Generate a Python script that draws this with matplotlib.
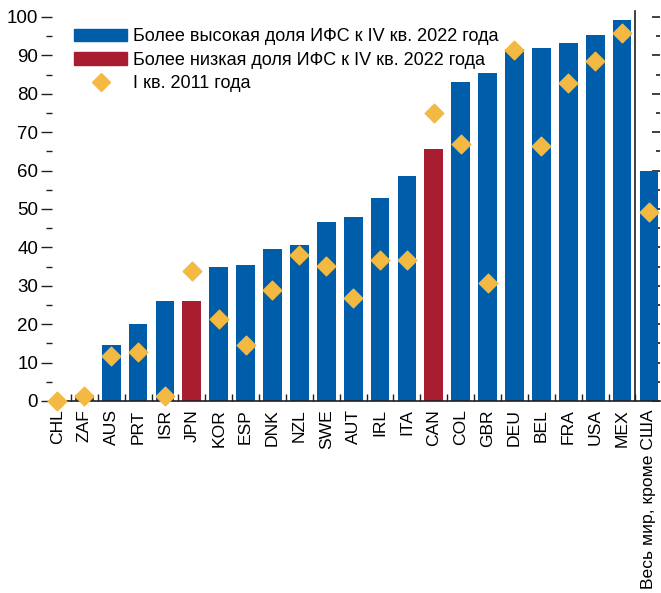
import numpy as np
import matplotlib
matplotlib.use("Agg")
import matplotlib.pyplot as plt
from matplotlib.ticker import MultipleLocator, NullFormatter
from matplotlib.patches import Patch
from matplotlib.lines import Line2D

categories = ["CHL", "ZAF", "AUS", "PRT", "ISR", "JPN", "KOR", "ESP", "DNK", "NZL",
              "SWE", "AUT", "IRL", "ITA", "CAN", "COL", "GBR", "DEU", "BEL", "FRA",
              "USA", "MEX", "Весь мир, кроме США"]
share_2022 = [0.0, 1.5, 14.6, 20.0, 26.0, 26.0, 34.8, 35.3, 39.7, 40.5,
              46.5, 48.0, 52.8, 58.5, 65.6, 83.0, 85.3, 91.6, 91.8, 93.1,
              95.2, 99.3, 59.8]
share_2011 = [0.0, 1.3, 11.8, 12.7, 1.3, 33.8, 21.3, 14.6, 29.0, 37.9,
              35.1, 26.8, 36.6, 36.6, 75.0, 67.0, 30.6, 91.3, 66.3, 82.9,
              88.6, 95.8, 49.1]
lower = ["JPN", "CAN"]

BLUE = "#005DAA"
RED = "#A81D30"
GOLD = "#F4B942"
DARK = "#231F20"
FONT = ["Liberation Sans Narrow", "Liberation Sans", "DejaVu Sans"]

plt.rcParams["font.family"] = FONT
plt.rcParams["font.size"] = 13

fig = plt.figure(figsize=(6.61, 5.93), dpi=100)
ax = fig.add_axes([0.0787, 0.3238, 0.9193, 0.6605])

x = np.arange(len(categories))
colors = [RED if c in lower else BLUE for c in categories]
ax.bar(x, share_2022, width=0.7, color=colors, zorder=2)
ax.scatter(x, share_2011, marker="D", s=90, color=GOLD, zorder=4, clip_on=False)

ax.axvline(21.5, ymin=0, ymax=0.995, color=DARK, lw=1.2, zorder=3)

ax.set_xlim(-0.2, 22.4)
ax.set_ylim(0, 102)

ax.yaxis.set_major_locator(MultipleLocator(10))
ax.yaxis.set_minor_locator(MultipleLocator(5))
ax.tick_params(axis="y", which="major", direction="out", length=8, width=1,
               color=DARK, labelsize=13.5, pad=2)
ax.tick_params(axis="y", which="minor", direction="out", length=4, width=1,
               color=DARK)

# inward ticks on the right edge, no labels
sec = ax.secondary_yaxis("right")
sec.yaxis.set_major_locator(MultipleLocator(10))
sec.yaxis.set_minor_locator(MultipleLocator(5))
sec.yaxis.set_major_formatter(NullFormatter())
sec.tick_params(which="major", direction="in", length=6, width=1.2, color=DARK)
sec.tick_params(which="minor", direction="in", length=3, width=1.2, color=DARK)
sec.spines["right"].set_visible(False)

ax.set_xticks(x)
ax.set_xticklabels(categories, rotation=90, fontsize=12.6)
ax.tick_params(axis="x", which="major", length=0, pad=6)
ax.set_xticks(x[:-1] + 0.5, minor=True)
ax.tick_params(axis="x", which="minor", direction="in", length=5, width=1, color=DARK)

for s in ["left", "top", "right"]:
    ax.spines[s].set_visible(False)
ax.spines["bottom"].set_color(DARK)
ax.spines["bottom"].set_linewidth(1.2)
ax.spines["bottom"].set_zorder(3)

handles = [Patch(color=BLUE), Patch(color=RED),
           Line2D([], [], marker="D", color=GOLD, lw=0, markersize=9)]
labels = ["Более высокая доля ИФС к IV кв. 2022 года",
          "Более низкая доля ИФС к IV кв. 2022 года",
          "I кв. 2011 года"]
ax.legend(handles, labels, loc="upper left", bbox_to_anchor=(0.025, 0.97),
          frameon=False, fontsize=13, handlelength=2.9, handleheight=0.7,
          handletextpad=0.35, labelspacing=0.35, borderaxespad=0)

fig.savefig("out.png", dpi=100)
